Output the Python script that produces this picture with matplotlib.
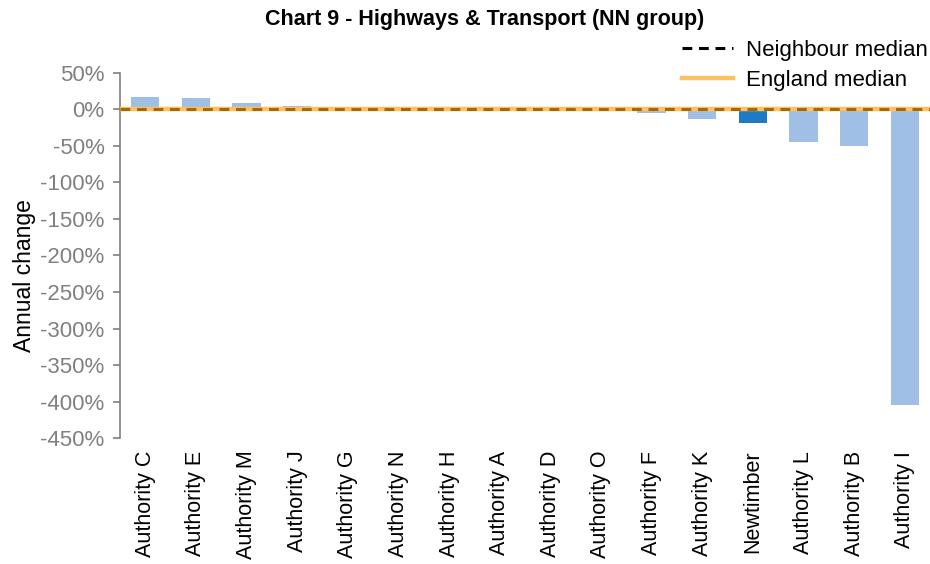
import numpy as np
import matplotlib.pyplot as plt
from matplotlib.lines import Line2D
from matplotlib.ticker import PercentFormatter

plt.rcParams['font.family'] = ['Liberation Sans', 'DejaVu Sans']
plt.rcParams['axes.unicode_minus'] = False

# 数据
authorities = ['Authority C', 'Authority E', 'Authority M', 'Authority J', 'Authority G',
               'Authority N', 'Authority H', 'Authority A', 'Authority D', 'Authority O',
               'Authority F', 'Authority K', 'Newtimber', 'Authority L', 'Authority B',
               'Authority I']
annual_change = [16.5, 15.5, 8.2, 4.5, 2.7, 0.6, 0.3, -0.2, -0.6, -2.5,
                 -5.0, -13.7, -18.4, -45.0, -50.0, -405.0]
highlight = 'Newtimber'
neighbour_median = 0.0
england_median = 0.0
y_ticks = list(range(50, -451, -50))

fig = plt.figure(figsize=(9.3, 5.64), dpi=100)
ax = fig.add_axes([0.129, 0.223, 0.871, 0.648])

x = np.arange(len(authorities))
colors = ['#1F7AC4' if a == highlight else '#A0BFE6' for a in authorities]
ax.bar(x, annual_change, width=0.56, color=colors, zorder=2)

# 中位数线
ax.axhline(england_median, color='#FFC060', lw=3.2, zorder=3)
ax.axhline(neighbour_median, color='#A86A00', lw=2.2, ls=(0, (3.2, 2.2)), zorder=4)

ax.set_xlim(-0.5, len(authorities) - 0.5)
ax.set_ylim(-450, 50)
ax.set_yticks(y_ticks)
ax.yaxis.set_major_formatter(PercentFormatter(decimals=0))
ax.set_xticks(x)
ax.set_xticklabels(authorities, rotation=90, fontsize=15.5)
ax.tick_params(axis='x', length=0, pad=9)
ax.tick_params(axis='y', colors='#808080', labelsize=16, length=5, width=1.2,
               direction='out', pad=6)
for lab in ax.get_yticklabels():
    lab.set_color('#808080')

for s in ['top', 'right', 'bottom']:
    ax.spines[s].set_visible(False)
ax.spines['left'].set_color('#808080')
ax.spines['left'].set_linewidth(1.2)

ax.set_ylabel('Annual change', fontsize=16.5)
ax.yaxis.set_label_coords(-0.104, 0.444)

fig.text(0.5215, 0.966, 'Chart 9 - Highways & Transport (NN group)', ha='center', va='center',
         fontsize=15.5, fontweight='bold')

handles = [Line2D([], [], color='black', lw=2.2, ls=(0, (3.2, 2.2))),
           Line2D([], [], color='#FFC060', lw=3.2)]
fig.legend(handles, ['Neighbour median', 'England median'], loc='upper right',
           bbox_to_anchor=(0.998, 0.929), frameon=False, fontsize=16,
           handlelength=2.3, handletextpad=0.6, labelspacing=0.4,
           borderpad=0.0, borderaxespad=0.0)

fig.savefig('out.png', dpi=100)
